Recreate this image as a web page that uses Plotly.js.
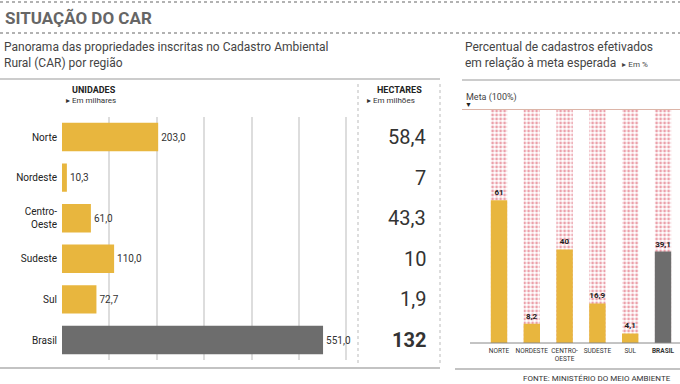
<!DOCTYPE html>
<html><head><meta charset="utf-8">
<script src="https://cdn.plot.ly/plotly-3.0.1.min.js"></script>
<style>body{margin:0;background:#fff}#c{width:680px;height:384px}</style>
</head><body><div id="c"></div>
<script>
const regions = ['Norte','Nordeste','Centro-<br>Oeste','Sudeste','Sul','Brasil'];
const unidades = [203.0, 10.3, 61.0, 110.0, 72.7, 551.0];
const unidadesTxt = ['203,0','10,3','61,0','110,0','72,7','551,0'];
const hectaresTxt = ['58,4','7','43,3','10','1,9','132'];
const regionsUp = ['NORTE','NORDESTE','CENTRO-<br>OESTE','SUDESTE','SUL','<b>BRASIL</b>'];
const pct = [61, 8.2, 40, 16.9, 4.1, 39.1];
const pctTxt = ['61','8,2','40','16,9','4,1','39,1'];
const meta = [100,100,100,100,100,100];

const W=680,H=384;
const px=x=>x/W, py=y=>1-y/H;
const yellow='#E8B63E', gray='#6d6d6d';
const font="Roboto, 'Liberation Sans', sans-serif";

const traces=[
 {type:'bar',orientation:'h',y:regions,x:unidades,xaxis:'x',yaxis:'y',width:0.7,
  marker:{color:unidades.map((v,i)=>i===5?gray:yellow)},
  text:unidadesTxt,textposition:'outside',cliponaxis:false,
  textfont:{size:10,color:'#333',family:font},hoverinfo:'none'},
 {type:'bar',x:regionsUp,y:meta,xaxis:'x2',yaxis:'y2',width:0.5,
  marker:{color:'#fff',pattern:{shape:'.',fgcolor:'#eba0aa',bgcolor:'#fff',size:4,solidity:0.4},line:{width:0}},
  hoverinfo:'none'},
 {type:'bar',x:regionsUp,y:pct,xaxis:'x2',yaxis:'y2',width:0.5,
  marker:{color:pct.map((v,i)=>i===5?gray:yellow)},
  text:pctTxt.map(t=>'<b>'+t+'</b>'),textposition:'outside',cliponaxis:false,
  textfont:{size:8,color:'#222',family:font},hoverinfo:'none'}
];

const ann=[
 {text:'<b>SITUAÇÃO DO CAR</b>',x:px(3),y:py(18),xanchor:'left',yanchor:'middle',font:{size:17,color:'#666',family:font}},
 {text:'Panorama das propriedades inscritas no Cadastro Ambiental<br>Rural (CAR) por região',x:px(2),y:py(55),xanchor:'left',yanchor:'middle',align:'left',font:{size:12,color:'#444',family:font}},
 {text:'Percentual de cadastros efetivados<br>em relação à meta esperada  <span style="font-size:8px">▸ Em %</span>',x:px(463),y:py(55),xanchor:'left',yanchor:'middle',align:'left',font:{size:12,color:'#444',family:font}},
 {text:'<b>UNIDADES</b>',x:px(70),y:py(90),xanchor:'left',yanchor:'middle',font:{size:9,color:'#222',family:font}},
 {text:'▸ Em milhares',x:px(64),y:py(101),xanchor:'left',yanchor:'middle',font:{size:8,color:'#333',family:font}},
 {text:'<b>HECTARES</b>',x:px(375),y:py(90),xanchor:'left',yanchor:'middle',font:{size:9,color:'#222',family:font}},
 {text:'▸ Em milhões',x:px(365),y:py(101),xanchor:'left',yanchor:'middle',font:{size:8,color:'#333',family:font}},
 {text:'Meta (100%)',x:px(464),y:py(97),xanchor:'left',yanchor:'middle',font:{size:9,color:'#444',family:font}},
 {text:'▼',x:px(468),y:py(105),xanchor:'center',yanchor:'middle',font:{size:7,color:'#222',family:font}},
 {text:'FONTE: MINISTÉRIO DO MEIO AMBIENTE',x:px(673),y:py(378),xanchor:'right',yanchor:'middle',font:{size:8,color:'#333',family:font}}
].map(a=>Object.assign({xref:'paper',yref:'paper',showarrow:false},a));

hectaresTxt.forEach((t,i)=>ann.push({xref:'paper',yref:'y',x:px(428),y:regions[i],xanchor:'right',yanchor:'middle',showarrow:false,
  text:i===5?'<b>'+t+'</b>':t,font:{size:20,color:'#333',family:font}}));

const line=(x0,y0,x1,y1,c,w,d)=>({type:'line',xref:'paper',yref:'paper',x0:px(x0),x1:px(x1),y0:py(y0),y1:py(y1),line:{color:c,width:w,dash:d||'solid'}});
const shapes=[
 line(0,2,680,2,'#999',1.5,'dot'),
 line(0,33,680,33,'#999',1.5,'dot'),
 line(0,79,440,79,'#999',1.2),
 line(462,80,680,80,'#999',1.2),
 line(0,368,440,368,'#888',1.2),
 line(455,369,680,369,'#888',1.2),
 line(358,84,358,366,'#bbb',1,'dot'),
 line(440,84,440,366,'#bbb',1,'dot'),
 line(470,343,680,343,'#888',1),
 {type:'line',xref:'paper',yref:'y2',x0:px(462),x1:px(680),y0:100,y1:100,line:{color:'#dcb5a8',width:2}}
];

const layout={
 width:W,height:H,margin:{l:0,r:0,t:0,b:0},paper_bgcolor:'#fff',plot_bgcolor:'rgba(0,0,0,0)',
 showlegend:false,barmode:'overlay',font:{family:font},
 xaxis:{domain:[px(62),px(360)],range:[0,629],dtick:100,showgrid:true,gridcolor:'#ddd',gridwidth:2,
   showticklabels:false,zeroline:false,ticks:'',fixedrange:true},
 yaxis:{domain:[py(360.3),py(116.7)],range:[5.5,-0.5],type:'category',showgrid:false,zeroline:false,
   tickfont:{size:10,color:'#222',family:font},ticks:'',ticklabelstandoff:4,automargin:false},
 xaxis2:{anchor:'y2',domain:[px(482.6),px(679.4)],range:[-0.5,5.5],type:'category',showgrid:false,zeroline:false,
   tickangle:0,tickfont:{size:6.5,color:'#333',family:font},ticks:'',automargin:false,ticklabelstandoff:2},
 yaxis2:{anchor:'x2',domain:[py(343),py(109)],range:[0,100],visible:false},
 annotations:ann,shapes:shapes
};
Plotly.newPlot('c',traces,layout,{staticPlot:true});
</script></body></html>
